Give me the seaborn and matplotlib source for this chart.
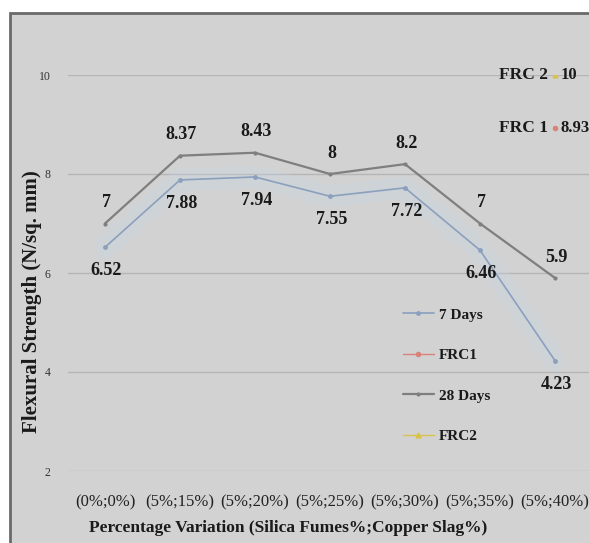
import matplotlib
matplotlib.use("Agg")
import matplotlib.pyplot as plt
import matplotlib.patches as mpatches
import seaborn as sns
import pandas as pd
import numpy as np

sns.set_theme(style="white")
plt.rcParams['font.family'] = ['Liberation Serif', 'DejaVu Serif']

# data
categories = ["(0%;0%)", "(5%;15%)", "(5%;20%)", "(5%;25%)",
              "(5%;30%)", "(5%;35%)", "(5%;40%)"]
days_7 = [6.52, 7.88, 7.94, 7.55, 7.72, 6.46, 4.23]
days_28 = [7, 8.37, 8.43, 8, 8.2, 7, 5.9]
frc_names = ["FRC1", "FRC2"]
frc_labels = ["FRC 1", "FRC 2"]
frc_values = [8.93, 10]
y_ticks = [2, 4, 6, 8, 10]

bg = "#d2d2d2"
col_7 = "#8aa0bd"
col_28 = "#7f7f7f"
frc_cols = ["#d9827a", "#d8c24a"]
txt = "#1a1a1a"

df = pd.DataFrame({"pos": np.arange(len(categories)), "7 Days": days_7, "28 Days": days_28})
last = df["pos"].iloc[-1]   # FRC values sit on the last category

fig = plt.figure(figsize=(5.89, 5.43), dpi=100)
fig.patch.set_facecolor("white")
# grey chart area with dark border on top / left (screenshot look)
fig.patches.append(mpatches.Rectangle((10 / 589, -0.01), 1.0, 1 - 13 / 543 + 0.01,
                                      transform=fig.transFigure, facecolor=bg,
                                      edgecolor="#6a6a6a", linewidth=2, zorder=-5))

ax = fig.add_axes([67.5 / 589, 1 - 471 / 543, 525 / 589, 396 / 543])
ax.set_facecolor("none")

# soft glow under the 7 days line
ax.plot(df["pos"], df["7 Days"], color="#c8d6e8", lw=16, alpha=0.3,
        solid_capstyle="round", zorder=1)

sns.lineplot(data=df, x="pos", y="7 Days", ax=ax, color=col_7, lw=1.2,
             marker="o", markersize=3.5, markeredgewidth=0, label="7 Days", zorder=3)
ax.plot([last], [frc_values[0]], marker="o", markersize=3, color=frc_cols[0],
        lw=1, label=frc_names[0], zorder=3)
sns.lineplot(data=df, x="pos", y="28 Days", ax=ax, color=col_28, lw=1.6,
             marker="o", markersize=3, markeredgewidth=0, label="28 Days", zorder=3)
ax.plot([last], [frc_values[1]], marker="^", markersize=3.5, color=frc_cols[1],
        lw=1, label=frc_names[1], zorder=3)

# data labels
for i, v in enumerate(days_28):
    ax.annotate(f"{v:g}", (i, v), xytext=(1, 15), textcoords="offset points",
                ha="center", va="center", fontsize=13, fontweight="bold", color=txt)
for i, v in enumerate(days_7):
    ax.annotate(f"{v:g}", (i, v), xytext=(1, -17), textcoords="offset points",
                ha="center", va="center", fontsize=13, fontweight="bold", color=txt)

# FRC annotations
for name, v in zip(frc_labels, frc_values):
    ax.annotate(name, (last, v), xytext=(-5, 0), textcoords="offset points",
                ha="right", va="center", fontsize=12.5, fontweight="bold", color=txt)
    ax.annotate(f"{v:g}", (last, v), xytext=(4, 0), textcoords="offset points",
                ha="left", va="center", fontsize=12, fontweight="bold", color=txt)

ax.set_xlim(-0.5, 6.5)
ax.set_ylim(2, 10)
ax.set_yticks(y_ticks)
ax.set_yticklabels([str(t) for t in y_ticks], fontsize=8.5, color="#333333")
ax.set_xticks(df["pos"])
ax.set_xticklabels(categories, fontsize=12, color="#222222")
ax.tick_params(axis="y", length=0, pad=12)
ax.tick_params(axis="x", length=0, pad=17)
ax.grid(axis="y", color="#b5b5b5", lw=1)
ax.set_axisbelow(True)
for s in ax.spines.values():
    s.set_visible(False)

ax.set_xlabel("Percentage Variation (Silica Fumes%;Copper Slag%)", fontsize=12.5,
              fontweight="bold", color=txt)
ax.set_ylabel("Flexural Strength (N/sq. mm)", fontsize=15, fontweight="bold", color=txt)
ax.yaxis.set_label_coords(-25 / 525, (471 - 302) / 396)
ax.xaxis.set_label_coords((288 - 67.5) / 525, -(520 - 471) / 396)

leg = ax.legend(loc="upper left", bbox_to_anchor=((397 - 67.5) / 525, (471 - 302) / 396),
                frameon=False, fontsize=11, labelspacing=1.75, handlelength=2.0,
                handletextpad=0.35, borderaxespad=0)
for t in leg.get_texts():
    t.set_fontweight("bold")
    t.set_color(txt)

fig.savefig("out.png", dpi=100, facecolor=fig.get_facecolor())
